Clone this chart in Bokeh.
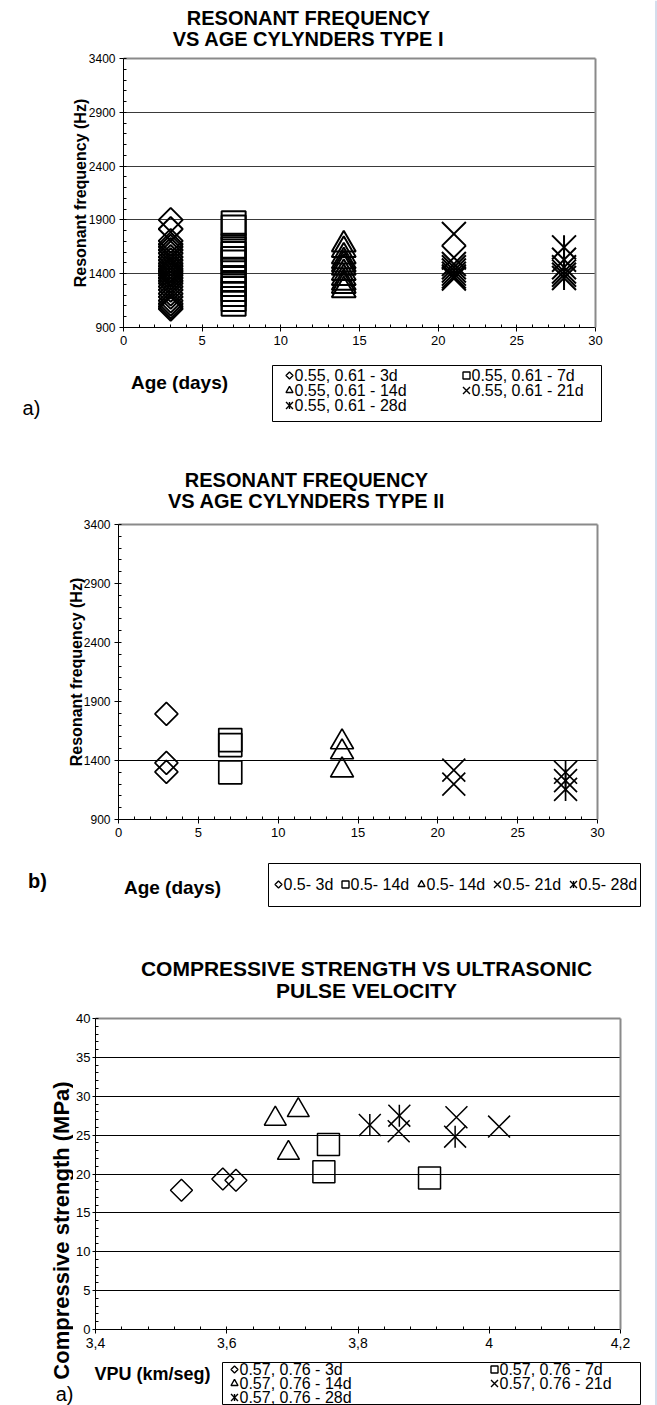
import math
from bokeh.plotting import figure
from bokeh.models import (Label, FixedTicker, Range1d, LinearAxis,
                          SingleIntervalTicker, CustomJSTickFormatter)
from bokeh.layouts import column, row
from bokeh.embed import file_html
from bokeh.resources import INLINE

FONT = "Liberation Sans"

# ---------------- data: panel a) type I cylinders ----------------
a_ages = [3, 7, 14, 21, 28]
a_3d = [1900, 1815, 1705, 1675, 1650, 1620, 1590, 1555, 1525, 1495, 1470, 1445,
        1425, 1405, 1385, 1360, 1335, 1310, 1280, 1250, 1215, 1185, 1150, 1120, 1095, 1075]
a_7d = [1870, 1830, 1660, 1628, 1582, 1536, 1505, 1428, 1351, 1305, 1258, 1212, 1166, 1120]
a_14d = [1670, 1620, 1560, 1515, 1485, 1455, 1405, 1360, 1315, 1285, 1245]
a_21d = [1770, 1550, 1490, 1460, 1430, 1400, 1375, 1355]
a_28d = [1645, 1530, 1460, 1420, 1390, 1360]
a_labels = ["0.55, 0.61 - 3d", "0.55, 0.61 - 7d", "0.55, 0.61 - 14d",
            "0.55, 0.61 - 21d", "0.55, 0.61 - 28d"]

# ---------------- data: panel b) type II cylinders ----------------
b_ages = [3, 7, 14, 21, 28]
b_3d = [1795, 1380, 1303]
b_7d = [1573, 1531, 1300]
b_14d = [1556, 1471, 1318]
b_21d = [1318, 1200]
b_28d = [1300, 1230, 1155]
b_labels = ["0.5- 3d", "0.5- 14d", "0.5- 14d", "0.5- 21d", "0.5- 28d"]

# ---------------- data: panel c) strength vs UPV ----------------
c_3d_v = [3.531, 3.594, 3.614]
c_3d_s = [17.9, 19.35, 19.2]
c_7d_v = [3.755, 3.748, 3.909]
c_7d_s = [23.8, 20.3, 19.5]
c_14d_v = [3.674, 3.709, 3.694]
c_14d_s = [27.1, 28.2, 22.7]
c_21d_v = [3.862, 3.950, 4.015]
c_21d_s = [25.5, 27.3, 26.1]
c_28d_v = [3.818, 3.863, 3.948]
c_28d_s = [26.3, 27.5, 24.8]
c_labels = ["0.57, 0.76 - 3d", "0.57, 0.76 - 7d", "0.57, 0.76 - 14d",
            "0.57, 0.76 - 21d", "0.57, 0.76 - 28d"]

freq_ticks = [900, 1400, 1900, 2400, 2900, 3400]
kinds = ["diamond", "square", "triangle", "x", "star"]
X_SCALE = 1.41  # bokeh's "x" marker is drawn smaller than its nominal size
W = 654         # content width; a thin page-edge strip fills the rest


def main_fig(w, h, left, right, top, bottom, xr, yr):
    p = figure(width=w, height=h, x_range=Range1d(*xr), y_range=Range1d(*yr),
               output_backend="svg", toolbar_location=None,
               min_border_left=left, min_border_right=right,
               min_border_top=top, min_border_bottom=bottom)
    p.frame_align = False
    p.background_fill_color = "white"
    p.border_fill_color = "white"
    p.outline_line_color = None
    p.xgrid.visible = False
    return p


def add_border(p):
    for side in ("above", "right"):
        ax = LinearAxis(ticker=FixedTicker(ticks=[]),
                        axis_line_color="#8a8a8a", axis_line_width=2,
                        major_tick_out=0, major_tick_in=0, minor_tick_out=0, minor_tick_in=0,
                        major_label_standoff=0,
                        major_tick_line_color=None, minor_tick_line_color=None)
        p.add_layout(ax, side)


def deco(w, h):
    p = figure(width=w, height=h, x_range=Range1d(0, w), y_range=Range1d(h, 0),
               output_backend="svg", toolbar_location=None,
               x_axis_type=None, y_axis_type=None, min_border=0)
    p.frame_align = False
    p.outline_line_color = None
    p.background_fill_color = "white"
    p.border_fill_color = "white"
    return p


def style_axis(ax, size, tick_out=4, standoff=4):
    ax.axis_line_color = "black"
    ax.axis_line_width = 1
    ax.major_tick_out = tick_out
    ax.major_tick_in = 0
    ax.minor_tick_out = 0
    ax.minor_tick_in = 3
    ax.major_tick_line_color = "black"
    ax.minor_tick_line_color = "black"
    ax.major_label_text_font = FONT
    ax.major_label_text_font_size = f"{size}px"
    ax.major_label_text_color = "black"
    ax.major_label_standoff = standoff


def ylabel(ax, s, size, standoff):
    ax.axis_label = s
    ax.axis_label_text_font = FONT
    ax.axis_label_text_font_style = "bold"
    ax.axis_label_text_font_size = f"{size}px"
    ax.axis_label_text_color = "black"
    ax.axis_label_standoff = standoff


def text(p, s, x, y, size, bold=False, align="center", angle=0.0):
    p.add_layout(Label(x=x, y=y, text=s, text_font=FONT, text_font_size=f"{size}px",
                       text_font_style="bold" if bold else "normal",
                       text_align=align, text_baseline="middle", angle=angle,
                       text_color="black"))


def plot_series(p, xs, ys, kind, size, lw):
    common = dict(line_color="black", fill_alpha=0, line_width=lw)
    if kind == "diamond":
        p.scatter(xs, ys, marker="square", angle=math.pi / 4, size=size / math.sqrt(2), **common)
    elif kind == "square":
        p.scatter(xs, ys, marker="square", size=size, **common)
    elif kind == "triangle":
        p.scatter(xs, ys, marker="triangle", size=size, **common)
    elif kind == "x":
        p.scatter(xs, ys, marker="x", size=size * X_SCALE, **common)
    elif kind == "star":
        p.scatter(xs, ys, marker="x", size=size * X_SCALE, **common)
        p.scatter(xs, ys, marker="dash", angle=math.pi / 2, size=size, **common)


def legend_box(p, x0, x1, y0, y1):
    p.quad(left=[x0], right=[x1], top=[y0], bottom=[y1], fill_color="white",
           line_color="black", line_width=1)


def legend_entry(p, x, y, kind, label, fs, msize=7, lw=1.4):
    plot_series(p, [x], [y], kind, msize, lw)
    text(p, label, x + msize / 2 + 1.5, y, fs, align="left")


# ======================= panel a =======================
t1 = deco(W, 52)
text(t1, "RESONANT FREQUENCY", 308, 17, 20, bold=True)
text(t1, "VS AGE CYLYNDERS TYPE I", 308, 38, 20, bold=True)

m1 = main_fig(W, 300, 123, W - 595, 6, 25, (0, 30), (900, 3400))
m1.below[0].ticker = SingleIntervalTicker(interval=5, num_minor_ticks=5)
m1.left[0].ticker = FixedTicker(ticks=freq_ticks, minor_ticks=list(range(900, 3401, 100)))
m1.ygrid.ticker = FixedTicker(ticks=freq_ticks[1:-1])
m1.ygrid.grid_line_color = "#3a3a3a"
style_axis(m1.below[0], 13)
style_axis(m1.left[0], 12)
ylabel(m1.left[0], "Resonant frequency (Hz)", 16, -3)
add_border(m1)
for age, vals, kind in zip(a_ages, [a_3d, a_7d, a_14d, a_21d, a_28d], kinds):
    plot_series(m1, [age] * len(vals), vals, kind, 24, 2)

b1 = deco(W, 88)
text(b1, "Age (days)", 179, 30, 19, bold=True)
text(b1, "a)", 31, 55, 20)
legend_box(b1, 272, 601, 13, 69)
for (kx, ky), i in zip([(289, 23), (466, 23), (289, 38), (466, 38), (289, 53)], range(5)):
    legend_entry(b1, kx, ky, kinds[i], a_labels[i], 16)

# ======================= panel b =======================
t2 = deco(W, 78)
text(t2, "RESONANT FREQUENCY", 306, 39, 20, bold=True)
text(t2, "VS AGE CYLYNDERS TYPE II", 306, 60, 20, bold=True)

m2 = main_fig(W, 328, 118, W - 597, 6, 27, (0, 30), (900, 3400))
m2.below[0].ticker = SingleIntervalTicker(interval=5, num_minor_ticks=5)
m2.left[0].ticker = FixedTicker(ticks=freq_ticks, minor_ticks=list(range(900, 3401, 100)))
m2.ygrid.ticker = FixedTicker(ticks=[1400])
m2.ygrid.grid_line_color = "black"
style_axis(m2.below[0], 13)
style_axis(m2.left[0], 12)
ylabel(m2.left[0], "Resonant frequency (Hz)", 16, -4)
add_border(m2)
for age, vals, kind in zip(b_ages, [b_3d, b_7d, b_14d, b_21d, b_28d], kinds):
    plot_series(m2, [age] * len(vals), vals, kind, 23, 1.7)

b2 = deco(W, 84)
text(b2, "Age (days)", 172, 41, 19, bold=True)
text(b2, "b)", 37, 34, 20, bold=True)
legend_box(b2, 268, 640, 17, 60)
for kx, i in zip([278, 345, 421, 497, 573], range(5)):
    legend_entry(b2, kx, 38, kinds[i], b_labels[i], 16)

# ======================= panel c =======================
LW3 = 73
t3 = deco(W - LW3, 82)
text(t3, "COMPRESSIVE STRENGTH VS ULTRASONIC", 366 - LW3, 38, 21, bold=True)
text(t3, "PULSE VELOCITY", 366 - LW3, 60, 21, bold=True)

m3 = main_fig(W - LW3, 348, 93 - LW3, W - 620, 6, 31, (3.4, 4.2), (0, 40))
m3.below[0].ticker = FixedTicker(ticks=[3.4, 3.6, 3.8, 4.0, 4.2],
                                 minor_ticks=[round(3.4 + 0.04 * i, 2) for i in range(21)])
m3.below[0].formatter = CustomJSTickFormatter(code="""
    let s = tick.toFixed(1);
    if (s.endsWith('.0')) { s = s.slice(0, -2); }
    return s.replace('.', ',');
""")
m3.left[0].ticker = SingleIntervalTicker(interval=5, num_minor_ticks=5)
m3.ygrid.ticker = FixedTicker(ticks=[5, 10, 15, 20, 25, 30, 35])
m3.ygrid.grid_line_color = "black"
style_axis(m3.below[0], 14)
style_axis(m3.left[0], 13, tick_out=3, standoff=2)
add_border(m3)
for vs, ss, kind in zip([c_3d_v, c_7d_v, c_14d_v, c_21d_v, c_28d_v],
                        [c_3d_s, c_7d_s, c_14d_s, c_21d_s, c_28d_s], kinds):
    plot_series(m3, vs, ss, kind, 22, 1.5)

b3 = deco(W - LW3, 45)
text(b3, "VPU (km/seg)", 152 - LW3, 13, 18, bold=True)
legend_box(b3, 222 - LW3, 640 - LW3, 2, 44)
for (kx, ky), i in zip([(234, 9), (494, 9), (234, 23), (494, 23), (234, 37)], range(5)):
    legend_entry(b3, kx - LW3, ky, kinds[i], c_labels[i], 16)

l3 = deco(LW3, 475)
text(l3, "Compressive strength (MPa)", 61, 300, 22, bold=True, angle=math.pi / 2)
text(l3, "a)", LW3, 463, 20, align="right")

# thin light-blue page edge on the right
edge = deco(657 - W, 1405)
edge.segment(x0=[1.5], y0=[0], x1=[1.5], y1=[1405], line_color="#a9bbd9", line_width=1)

panel1 = column(t1, m1, b1, spacing=0)
panel2 = column(t2, m2, b2, spacing=0)
panel3 = row(l3, column(t3, m3, b3, spacing=0), spacing=0)
page = row(column(panel1, panel2, panel3, spacing=0), edge, spacing=0)
open("out.html", "w").write(file_html(page, INLINE))
